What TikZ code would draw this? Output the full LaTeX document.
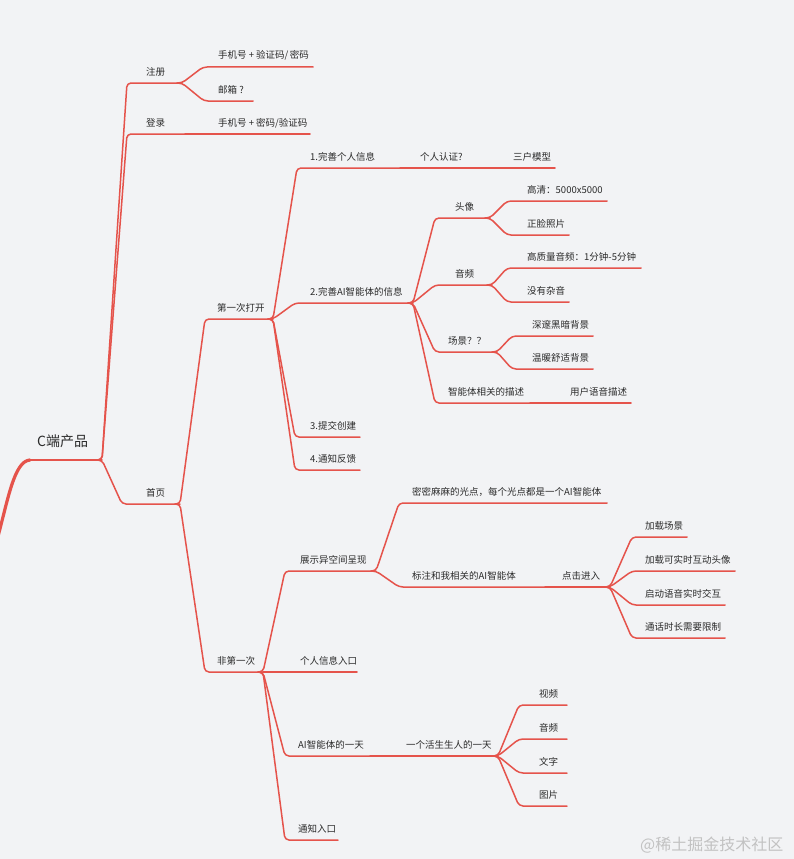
\documentclass[tikz,border=0pt]{standalone}
\usepackage{fontspec}
\setmainfont{Noto Sans CJK SC}
\newfontfamily\cjk{Noto Sans CJK SC}
\usetikzlibrary{calc}
\definecolor{bgc}{HTML}{F2F3F5}
\definecolor{lnc}{HTML}{E5534B}
\definecolor{txc}{HTML}{2B2B2B}
\definecolor{wmc}{HTML}{C2C2C2}
\tikzset{
  lbl/.style={anchor=base west,inner sep=0pt,text=txc,font=\cjk\fontsize{9.5}{11}\selectfont},
  br/.style={draw=lnc,line width=1.5pt,line cap=round,line join=round},
}
% name, corner x, end x, y, text x, text
\newcommand\mtopic[6]{%
  \coordinate (#1-k) at (#2,#4);
  \coordinate (#1-e) at (#3,#4);
  \node[lbl] (#1) at (#5,#4-8) {#6};
}
\begin{document}
\begin{tikzpicture}[x=1pt,y=-1pt]
\fill[bgc] (0,0) rectangle (794,859);
\useasboundingbox (0,0) rectangle (794,859);

% root
\coordinate (rootin) at (-3,540);
\coordinate (root-k) at (30,460);
\coordinate (root-e) at (102,460);
\node[lbl,font=\cjk\fontsize{14}{16}\selectfont] (root) at (37,446) {C端产品};
\draw[draw=lnc,line width=3.2pt,line cap=round] (rootin) .. controls (8,500) and (14,461) .. (root-k);
\draw[br] (root-k) -- (root-e);

% level 1
\mtopic{zc}{127}{182}{83}{146}{注册}
\mtopic{z1}{203}{313}{67}{218}{手机号 + 验证码/\hspace{1.5pt}密码}
\mtopic{z2}{204}{253}{101}{218}{邮箱 ?}
\mtopic{dl}{127}{185}{134}{146}{登录}
\mtopic{dl1}{185}{310}{134}{218}{手机号 + 密码/验证码}
\mtopic{sy}{122}{180}{504}{146}{首页}

% 第一次打开
\mtopic{d1}{205}{273}{319}{217}{第一次打开}
\mtopic{a1}{297}{400}{168}{310}{1.完善个人信息}
\mtopic{a1r}{400}{488}{168}{420}{个人认证?}
\mtopic{a1s}{488}{555}{168}{513}{三户模型}
\mtopic{a2}{295}{413}{303}{310}{2.完善AI智能体的信息}
\mtopic{tx}{435}{490}{218}{455}{头像}
\mtopic{tx1}{507}{607}{201}{527}{高清：5000x5000}
\mtopic{tx2}{507}{569}{235}{527}{正脸照片}
\mtopic{yp}{435}{492}{285}{455}{音频}
\mtopic{yp1}{507}{641}{268}{527}{高质量音频：1分钟-5分钟}
\mtopic{yp2}{507}{569}{302}{527}{没有杂音}
\mtopic{cj}{435}{497}{352}{448}{场景？？}
\mtopic{cj1}{512}{593}{336}{532}{深邃黑暗背景}
\mtopic{cj2}{512}{593}{369}{532}{温暖舒适背景}
\mtopic{ms}{435}{530}{403}{448}{智能体相关的描述}
\mtopic{ms1}{530}{631}{403}{570}{用户语音描述}
\mtopic{a3}{295}{360}{437}{310}{3.提交创建}
\mtopic{a4}{295}{360}{470}{310}{4.通知反馈}

% 非第一次
\mtopic{fd}{205}{263}{672}{217}{非第一次}
\mtopic{zs}{285}{376}{571}{300}{展示异空间呈现}
\mtopic{mm}{399}{607}{503}{412}{密密麻麻的光点，每个光点都是一个AI智能体}
\mtopic{bz}{399}{545}{587}{412}{标注和我相关的AI智能体}
\mtopic{dj}{545}{610}{587}{562}{点击进入}
\mtopic{jz1}{632}{687}{537}{645}{加载场景}
\mtopic{jz2}{632}{735}{571}{645}{加载可实时互动头像}
\mtopic{jz3}{632}{725}{605}{645}{启动语音实时交互}
\mtopic{jz4}{632}{725}{638}{645}{通话时长需要限制}
\mtopic{gr}{263}{357}{672}{300}{个人信息入口}
\mtopic{ai}{285}{370}{756}{298}{AI智能体的一天}
\mtopic{yt}{370}{498}{756}{406}{一个活生生人的一天}
\mtopic{sp}{519}{567}{705}{539}{视频}
\mtopic{yp3}{519}{567}{739}{539}{音频}
\mtopic{wz}{519}{567}{773}{539}{文字}
\mtopic{tp}{519}{567}{806}{539}{图片}
\mtopic{tz}{285}{338}{840}{298}{通知入口}

% connectors
\foreach \p/\c in {root/zc,zc/z1,zc/z2,root/dl,root/sy,
  sy/d1,d1/a1,d1/a2,d1/a3,d1/a4,
  a2/tx,a2/yp,a2/cj,a2/ms,tx/tx1,tx/tx2,yp/yp1,yp/yp2,cj/cj1,cj/cj2,
  sy/fd,fd/zs,fd/ai,fd/tz,zs/mm,zs/bz,
  dj/jz1,dj/jz2,dj/jz3,dj/jz4,
  yt/sp,yt/yp3,yt/wz,yt/tp}
  {\draw[br] ($(\p-e)+(-5,0)$) [rounded corners=4pt] -- (\p-e) -- (\c-k) [rounded corners=9pt] -- (\c-e);}
\foreach \p/\c in {dl/dl1,a1/a1r,a1r/a1s,ms/ms1,bz/dj,fd/gr,ai/yt}
  {\draw[br] (\p-e) -- (\c-e);}

% watermark
\node[anchor=base west,inner sep=0pt,text=wmc,font=\cjk\fontsize{16}{18}\selectfont] (wm) at (640,850) {@稀土掘金技术社区};
\end{tikzpicture}
\end{document}
